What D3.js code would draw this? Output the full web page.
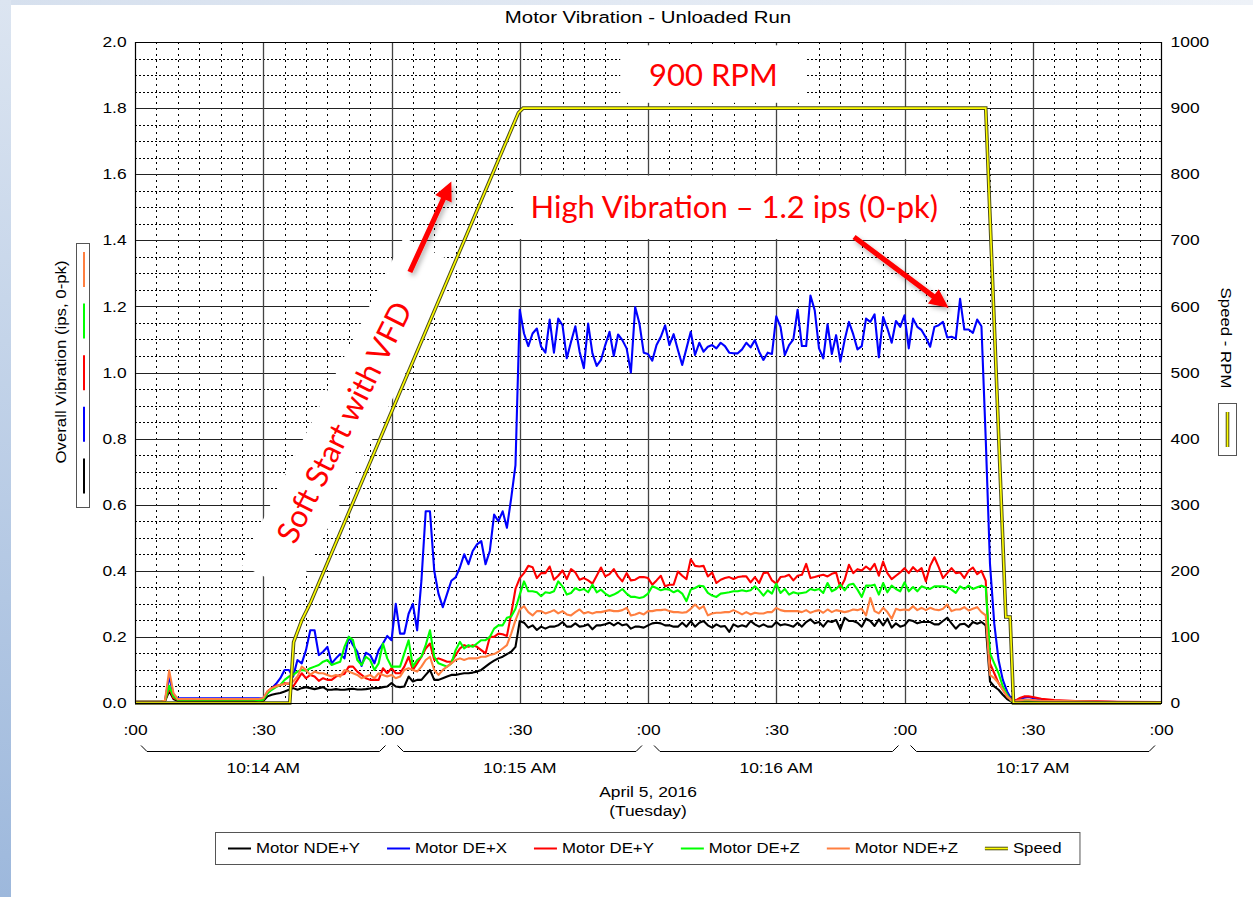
<!DOCTYPE html>
<html>
<head>
<meta charset="utf-8">
<script src="https://cdn.jsdelivr.net/npm/d3@7"></script>
<style>
  html, body { margin: 0; padding: 0; background: #fff; }
  svg { display: block; font-family: "Liberation Sans", Arial, sans-serif; }
</style>
</head>
<body>
<div id="chart"></div>
<script>
// Motor vibration chart - unloaded run

// Sample times, seconds after 10:14:00
const seconds = [
  0, 6, 7, 8, 9, 10, 12, 20, 28,
  29, 30, 31, 32, 33, 34, 35, 36, 37, 38,
  39, 40, 41, 42, 43, 44, 45, 46, 47, 48,
  49, 50, 51, 52, 53, 54, 55, 56, 57, 58,
  59, 60, 61, 62, 63, 64, 65, 66, 67, 68,
  69, 70, 71, 72, 73, 74, 75, 76, 77, 78,
  79, 80, 81, 82, 83, 84, 85, 86, 87, 88,
  89,
  90, 91, 92, 93, 94, 95, 96, 97, 98, 99,
  100, 101, 102, 103, 104, 105, 106, 107, 108, 109,
  110, 111, 112, 113, 114, 115, 116, 117, 118, 119,
  120, 121, 122, 123, 124, 125, 126, 127, 128, 129,
  130, 131, 132, 133, 134, 135, 136, 137, 138, 139,
  140, 141, 142, 143, 144, 145, 146, 147, 148, 149,
  150, 151, 152, 153, 154, 155, 156, 157, 158, 159,
  160, 161, 162, 163, 164, 165, 166, 167, 168, 169,
  170, 171, 172, 173, 174, 175, 176, 177, 178, 179,
  180, 181, 182, 183, 184, 185, 186, 187, 188, 189,
  190, 191, 192, 193, 194, 195, 196, 197, 198,
  199, 200, 201, 202, 203, 204, 205,
  206, 207, 208, 209, 210, 212, 215, 220, 225, 230, 240
]

// Overall vibration, ips 0-pk
const motorNdeY = [
  0.004, 0.004, 0.005, 0.036, 0.012, 0.006, 0.006, 0.006, 0.005,
  0.004, 0.006, 0.02, 0.025, 0.028, 0.03, 0.035, 0.04, 0.045, 0.04,
  0.045, 0.048, 0.045, 0.042, 0.045, 0.048, 0.04, 0.04, 0.042, 0.04,
  0.04, 0.042, 0.043, 0.041, 0.041, 0.042, 0.044, 0.045, 0.045, 0.048,
  0.05, 0.06, 0.05, 0.048, 0.05, 0.08, 0.065, 0.07, 0.07, 0.085,
  0.1, 0.07, 0.07, 0.075, 0.08, 0.085, 0.085, 0.088, 0.09, 0.09,
  0.092, 0.095, 0.1, 0.11, 0.12, 0.128, 0.135, 0.14, 0.148, 0.155,
  0.17,
  0.248, 0.243, 0.228, 0.235, 0.221, 0.231, 0.225, 0.231, 0.231, 0.235,
  0.245, 0.231, 0.231, 0.241, 0.231, 0.233, 0.238, 0.223, 0.235, 0.235,
  0.238, 0.243, 0.235, 0.243, 0.235, 0.238, 0.225, 0.231, 0.231, 0.228,
  0.235, 0.241, 0.243, 0.241, 0.235, 0.235, 0.231, 0.231, 0.243, 0.231,
  0.248, 0.231, 0.243, 0.248, 0.235, 0.228, 0.238, 0.231, 0.233, 0.215,
  0.238, 0.231, 0.235, 0.231, 0.248, 0.238, 0.231, 0.238, 0.231, 0.231,
  0.245, 0.235, 0.238, 0.235, 0.231, 0.243, 0.231, 0.245, 0.253, 0.241,
  0.245, 0.231, 0.248, 0.245, 0.251, 0.223, 0.258, 0.248, 0.248, 0.243,
  0.231, 0.255, 0.248, 0.233, 0.253, 0.235, 0.255, 0.228, 0.241, 0.231,
  0.235, 0.251, 0.248, 0.241, 0.245, 0.245, 0.245, 0.238, 0.238, 0.248,
  0.258, 0.241, 0.225, 0.238, 0.24, 0.23, 0.245, 0.24, 0.245,
  0.235, 0.065, 0.05, 0.04, 0.025, 0.012, 0.004,
  0.003, 0.003, 0.003, 0.003, 0.003, 0.003, 0.003, 0.003, 0.003, 0.003, 0.003
]

const motorDeX = [
  0.004, 0.004, 0.006, 0.08, 0.025, 0.014, 0.014, 0.014, 0.014,
  0.014, 0.015, 0.03, 0.045, 0.058, 0.075, 0.1, 0.1, 0.08, 0.13,
  0.12, 0.16, 0.22, 0.22, 0.145, 0.155, 0.17, 0.12, 0.135, 0.148,
  0.135, 0.2, 0.175, 0.155, 0.112, 0.152, 0.145, 0.12, 0.16, 0.18,
  0.203, 0.19, 0.3, 0.21, 0.21, 0.27, 0.3, 0.22, 0.37, 0.58,
  0.58, 0.4, 0.33, 0.29, 0.33, 0.37, 0.38, 0.41, 0.45, 0.42,
  0.46, 0.48, 0.49, 0.42, 0.46, 0.57, 0.55, 0.58, 0.53, 0.62,
  0.72,
  1.19, 1.118, 1.08, 1.118, 1.133, 1.078, 1.06, 1.16, 1.06, 1.163,
  1.143, 1.043, 1.093, 1.14, 1.063, 1.013, 1.148, 1.058, 1.02, 1.038,
  1.083, 1.123, 1.05, 1.115, 1.098, 1.073, 1.0, 1.198, 1.148, 1.06,
  1.056, 1.036, 1.083, 1.108, 1.143, 1.083, 1.116, 1.068, 1.023, 1.073,
  1.123, 1.053, 1.09, 1.063, 1.078, 1.083, 1.073, 1.09, 1.08, 1.06,
  1.058, 1.058, 1.07, 1.09, 1.076, 1.098, 1.063, 1.038, 1.06, 1.056,
  1.17, 1.138, 1.053, 1.083, 1.1, 1.19, 1.08, 1.08, 1.233, 1.188,
  1.073, 1.043, 1.146, 1.056, 1.113, 1.033, 1.098, 1.153, 1.116, 1.07,
  1.08, 1.163, 1.153, 1.176, 1.046, 1.168, 1.133, 1.09, 1.156, 1.138,
  1.173, 1.073, 1.163, 1.138, 1.128, 1.106, 1.078, 1.138, 1.143, 1.153,
  1.106, 1.108, 1.103, 1.223, 1.13, 1.13, 1.12, 1.16, 1.14,
  0.8, 0.42, 0.24, 0.13, 0.07, 0.035, 0.012,
  0.008, 0.012, 0.016, 0.018, 0.015, 0.01, 0.007, 0.005, 0.004, 0.003, 0.003
]

const motorDeY = [
  0.004, 0.004, 0.005, 0.045, 0.015, 0.01, 0.01, 0.01, 0.01,
  0.008, 0.01, 0.035, 0.045, 0.052, 0.054, 0.06, 0.058, 0.05, 0.07,
  0.09, 0.075, 0.085, 0.08, 0.067, 0.075, 0.07, 0.07, 0.08, 0.085,
  0.088, 0.11, 0.11, 0.095, 0.085, 0.075, 0.07, 0.07, 0.07, 0.105,
  0.09, 0.105, 0.09, 0.09, 0.11, 0.14, 0.1, 0.12, 0.14, 0.165,
  0.18, 0.13, 0.135, 0.13, 0.125, 0.125, 0.145, 0.165, 0.175, 0.17,
  0.175, 0.17, 0.16, 0.15, 0.2, 0.2, 0.21, 0.208, 0.203, 0.27,
  0.345,
  0.378, 0.393, 0.415, 0.411, 0.378, 0.393, 0.393, 0.413, 0.373, 0.385,
  0.401, 0.375, 0.405, 0.395, 0.373, 0.378, 0.371, 0.361, 0.385, 0.41,
  0.383, 0.39, 0.405, 0.383, 0.368, 0.393, 0.371, 0.373, 0.381, 0.381,
  0.378, 0.358, 0.371, 0.385, 0.353, 0.358, 0.358, 0.398, 0.385, 0.375,
  0.435, 0.415, 0.413, 0.415, 0.383, 0.395, 0.363, 0.373, 0.378, 0.381,
  0.375, 0.381, 0.383, 0.383, 0.365, 0.381, 0.363, 0.393, 0.395, 0.371,
  0.361, 0.381, 0.383, 0.388, 0.371, 0.385, 0.388, 0.421, 0.378, 0.381,
  0.385, 0.388, 0.383, 0.391, 0.395, 0.348, 0.373, 0.418, 0.393, 0.405,
  0.401, 0.413, 0.403, 0.421, 0.385, 0.428, 0.393, 0.375, 0.385, 0.395,
  0.408, 0.393, 0.411, 0.398, 0.408, 0.368, 0.415, 0.441, 0.411, 0.378,
  0.393, 0.408, 0.393, 0.395, 0.378, 0.4, 0.41, 0.39, 0.4,
  0.37, 0.12, 0.09, 0.06, 0.04, 0.02, 0.01,
  0.008, 0.015, 0.02, 0.02, 0.018, 0.013, 0.009, 0.006, 0.005, 0.004, 0.003
]

const motorDeZ = [
  0.004, 0.004, 0.006, 0.052, 0.02, 0.01, 0.01, 0.01, 0.01,
  0.008, 0.01, 0.03, 0.04, 0.048, 0.055, 0.07, 0.08, 0.085, 0.095,
  0.1, 0.098, 0.105, 0.11, 0.115, 0.125, 0.13, 0.115, 0.12, 0.125,
  0.17, 0.2, 0.19, 0.13, 0.115, 0.14, 0.13, 0.1, 0.12, 0.18,
  0.135, 0.11, 0.11, 0.11, 0.15, 0.19, 0.11, 0.13, 0.14, 0.175,
  0.22, 0.14, 0.12, 0.115, 0.11, 0.12, 0.16, 0.185, 0.165, 0.175,
  0.17, 0.18, 0.19, 0.19, 0.2, 0.225, 0.235, 0.235, 0.258, 0.262,
  0.285,
  0.328, 0.368, 0.338, 0.338, 0.335, 0.323, 0.335, 0.333, 0.338, 0.368,
  0.353, 0.328, 0.333, 0.348, 0.341, 0.345, 0.335, 0.358, 0.335, 0.343,
  0.331, 0.323, 0.328, 0.335, 0.345, 0.331, 0.321, 0.321, 0.318, 0.321,
  0.331, 0.353, 0.348, 0.341, 0.345, 0.343, 0.335, 0.341, 0.331, 0.308,
  0.343, 0.348, 0.355, 0.353, 0.333, 0.325, 0.321, 0.331, 0.333, 0.335,
  0.338, 0.338, 0.341, 0.338, 0.341, 0.353, 0.341, 0.325, 0.341, 0.331,
  0.361, 0.333, 0.345, 0.328, 0.335, 0.331, 0.333, 0.335, 0.345, 0.341,
  0.345, 0.333, 0.363, 0.338, 0.345, 0.358, 0.341, 0.358, 0.361, 0.343,
  0.321, 0.355, 0.355, 0.358, 0.328, 0.363, 0.335, 0.355, 0.345, 0.338,
  0.365, 0.338, 0.351, 0.338, 0.353, 0.348, 0.345, 0.353, 0.353, 0.353,
  0.35, 0.343, 0.333, 0.353, 0.345, 0.355, 0.345, 0.35, 0.355,
  0.35, 0.15, 0.12, 0.09, 0.05, 0.025, 0.006,
  0.005, 0.007, 0.008, 0.008, 0.007, 0.006, 0.005, 0.004, 0.003, 0.003, 0.003
]

const motorNdeZ = [
  0.004, 0.004, 0.007, 0.098, 0.03, 0.012, 0.012, 0.012, 0.012,
  0.012, 0.015, 0.035, 0.045, 0.05, 0.055, 0.057, 0.06, 0.065, 0.08,
  0.11, 0.1, 0.085, 0.095, 0.09, 0.09, 0.085, 0.08, 0.085, 0.08,
  0.1, 0.095, 0.09, 0.085, 0.075, 0.08, 0.085, 0.075, 0.09, 0.085,
  0.08, 0.085, 0.075, 0.08, 0.1, 0.105, 0.1, 0.095, 0.11, 0.13,
  0.14, 0.1, 0.085, 0.1, 0.11, 0.12, 0.13, 0.135, 0.13, 0.135,
  0.135, 0.135, 0.14, 0.14, 0.145, 0.148, 0.155, 0.165, 0.175, 0.21,
  0.25,
  0.283, 0.293, 0.275, 0.265, 0.278, 0.278, 0.271, 0.275, 0.281, 0.271,
  0.278, 0.268, 0.265, 0.275, 0.283, 0.271, 0.275, 0.271, 0.275, 0.275,
  0.278, 0.281, 0.278, 0.278, 0.281, 0.288, 0.265, 0.268, 0.273, 0.268,
  0.278, 0.278, 0.281, 0.281, 0.283, 0.278, 0.275, 0.275, 0.273, 0.275,
  0.285, 0.298, 0.285, 0.293, 0.265, 0.271, 0.273, 0.273, 0.275, 0.275,
  0.281, 0.275, 0.268, 0.275, 0.268, 0.273, 0.271, 0.271, 0.275, 0.275,
  0.288, 0.281, 0.278, 0.278, 0.278, 0.278, 0.275, 0.281, 0.273, 0.278,
  0.281, 0.273, 0.283, 0.275, 0.281, 0.278, 0.275, 0.278, 0.283, 0.281,
  0.285, 0.265, 0.318, 0.278, 0.271, 0.288, 0.275, 0.255, 0.285, 0.281,
  0.283, 0.281, 0.293, 0.281, 0.288, 0.281, 0.288, 0.283, 0.281, 0.285,
  0.298, 0.278, 0.283, 0.283, 0.29, 0.28, 0.285, 0.29, 0.275,
  0.265, 0.085, 0.075, 0.06, 0.04, 0.02, 0.008,
  0.006, 0.008, 0.01, 0.01, 0.009, 0.007, 0.006, 0.005, 0.004, 0.003, 0.003
]

// Speed trace (RPM), its own time stamps
const speedSeconds = [0, 36.2, 37.1, 39.0, 41.0, 89.7, 90.8, 199.0, 203.7, 204.7, 205.5, 240]
const speedRpm = [0, 0, 92, 125, 151, 893, 900, 900, 130, 130, 0, 0]

const seriesNames = ['Motor NDE+Y', 'Motor DE+X', 'Motor DE+Y', 'Motor DE+Z', 'Motor NDE+Z']
const seriesColors = ['#000000', '#0000ff', '#ff0000', '#00ff00', '#ff7f40']
const vibTicks = [0, 0.2, 0.4, 0.6, 0.8, 1.0, 1.2, 1.4, 1.6, 1.8, 2.0]
const rpmTicks = [0, 100, 200, 300, 400, 500, 600, 700, 800, 900, 1000]

var width = 1253
var height = 897
var plot = { left: 135, right: 1161, top: 42, bottom: 703 }
var stretch = 1.2   // the chart's sans text runs wide

var svg = d3.select('#chart')
  .append('svg')
  .attr('width', width)
  .attr('height', height)

var defs = svg.append('defs')

// slide edge tint
var gl = defs.append('linearGradient').attr('id', 'edge-left')
  .attr('x1', 0).attr('y1', 0).attr('x2', 0).attr('y2', 1)
gl.append('stop').attr('offset', '0%').attr('stop-color', '#dce5f1')
gl.append('stop').attr('offset', '100%').attr('stop-color', '#9db8dc')
var gt = defs.append('linearGradient').attr('id', 'edge-top')
gt.append('stop').attr('offset', '0%').attr('stop-color', '#d6e0ee')
gt.append('stop').attr('offset', '100%').attr('stop-color', '#eef2f8')

var shadow = defs.append('filter').attr('id', 'shadow')
  .attr('x', '-50%').attr('y', '-50%').attr('width', '200%').attr('height', '200%')
shadow.append('feDropShadow').attr('dx', 2).attr('dy', 3).attr('stdDeviation', 2.5)
  .attr('flood-color', '#000').attr('flood-opacity', 0.3)

defs.append('clipPath').attr('id', 'plot-clip')
  .append('rect')
  .attr('x', plot.left).attr('y', plot.top - 2)
  .attr('width', plot.right - plot.left).attr('height', plot.bottom - plot.top + 4)

svg.append('rect').attr('width', width).attr('height', height).attr('fill', '#fff')
svg.append('rect').attr('width', width).attr('height', 5).attr('fill', 'url(#edge-top)')
svg.append('rect').attr('width', 11).attr('height', height).attr('fill', 'url(#edge-left)')

// Scales
var t0 = new Date(2016, 3, 5, 10, 14, 0)
var toDate = (s) => new Date(t0.getTime() + s * 1000)

var x = d3.scaleTime()
  .domain([t0, toDate(240)])
  .range([plot.left, plot.right])

var y = d3.scaleLinear()
  .domain([0, 2])
  .range([plot.bottom, plot.top])

var y2 = d3.scaleLinear()
  .domain([0, 1000])
  .range([plot.bottom, plot.top])

// text helper, stretched horizontally like the original
function addText(g, px, py, str, o) {
  o = o || {}
  return g.append('text')
    .attr('transform', `translate(${px},${py})` + (o.rotate ? ` rotate(${o.rotate})` : '') + ` scale(${stretch},1)`)
    .attr('text-anchor', o.anchor || 'middle')
    .attr('font-size', o.size || 14)
    .attr('fill', '#000')
    .text(str)
}

// Grid
var grid = svg.append('g')
var minorY = d3.range(0, 2.001, 0.05).filter((v) => Math.round(v * 100) % 20 !== 0)
var majorSec = x.ticks(d3.timeSecond.every(30))
var minorSec = x.ticks(d3.timeSecond.every(5)).filter((d) => d.getSeconds() % 30 !== 0)

grid.selectAll('.minor-y')
  .data(minorY)
  .enter()
  .append('line')
  .attr('x1', plot.left).attr('x2', plot.right)
  .attr('y1', (d) => Math.round(y(d)) + 0.5).attr('y2', (d) => Math.round(y(d)) + 0.5)
  .attr('stroke', '#000').attr('stroke-width', 1).attr('stroke-dasharray', '2,2')

grid.selectAll('.minor-x')
  .data(minorSec)
  .enter()
  .append('line')
  .attr('x1', (d) => Math.round(x(d)) + 0.5).attr('x2', (d) => Math.round(x(d)) + 0.5)
  .attr('y1', plot.top).attr('y2', plot.bottom)
  .attr('stroke', '#000').attr('stroke-width', 1).attr('stroke-dasharray', '2,4')

grid.selectAll('.major-y')
  .data(vibTicks)
  .enter()
  .append('line')
  .attr('x1', plot.left).attr('x2', plot.right)
  .attr('y1', (d) => Math.round(y(d)) + 0.5).attr('y2', (d) => Math.round(y(d)) + 0.5)
  .attr('stroke', '#222').attr('stroke-width', 1.2)

grid.selectAll('.major-x')
  .data(majorSec)
  .enter()
  .append('line')
  .attr('x1', (d) => Math.round(x(d)) + 0.5).attr('x2', (d) => Math.round(x(d)) + 0.5)
  .attr('y1', plot.top).attr('y2', plot.bottom)
  .attr('stroke', '#444').attr('stroke-width', 1.3)

// Annotation boxes (white, hide the grid)
var notes = svg.append('g').attr('font-family', 'Lato, "Open Sans", sans-serif').attr('fill', '#ff0000')

notes.append('rect')
  .attr('x', x(toDate(113.5))).attr('y', y(1.99))
  .attr('width', x(toDate(157.2)) - x(toDate(113.5))).attr('height', y(1.816) - y(1.99))
  .attr('fill', '#fff')
notes.append('text')
  .attr('x', x(toDate(135.3))).attr('y', y(1.9)).attr('dy', '0.36em')
  .attr('text-anchor', 'middle').attr('font-size', 31)
  .text('900 RPM')

notes.append('rect')
  .attr('x', x(toDate(88.6))).attr('y', y(1.596))
  .attr('width', x(toDate(193.0)) - x(toDate(88.6))).attr('height', y(1.404) - y(1.596))
  .attr('fill', '#fff')
notes.append('text')
  .attr('x', x(toDate(140.2))).attr('y', y(1.5)).attr('dy', '0.36em')
  .attr('text-anchor', 'middle').attr('font-size', 31)
  .text('High Vibration \u2013 1.2 ips (0-pk)')

var soft = notes.append('g')
  .attr('transform', `translate(${x(toDate(48.9))},${y(0.85)}) rotate(-63.5)`)
soft.append('rect')
  .attr('x', -174).attr('y', -29).attr('width', 366).attr('height', 62)
  .attr('fill', '#fff')
soft.append('text')
  .attr('text-anchor', 'middle').attr('dy', '0.36em').attr('font-size', 31)
  .text('Soft Start with VFD')

// Data lines
var lines = svg.append('g').attr('clip-path', 'url(#plot-clip)')

var vibLine = d3.line()
  .x((d) => x(toDate(d[0])))
  .y((d) => y(d[1]))

var vibSeries = [motorNdeY, motorDeX, motorDeY, motorDeZ, motorNdeZ]
vibSeries.forEach((vals, i) => {
  lines.append('path')
    .datum(seconds.map((s, k) => [s, vals[k]]))
    .attr('d', vibLine)
    .attr('fill', 'none')
    .attr('stroke', seriesColors[i])
    .attr('stroke-width', 2.1)
    .attr('stroke-linejoin', 'round')
})

var speedLine = d3.line()
  .x((d) => x(toDate(d[0])))
  .y((d) => y2(d[1]))
var speedData = speedSeconds.map((s, k) => [s, speedRpm[k]])

lines.append('path')
  .datum(speedData)
  .attr('d', speedLine)
  .attr('fill', 'none')
  .attr('stroke', '#4d4d1a')
  .attr('stroke-width', 3.6)
lines.append('path')
  .datum(speedData)
  .attr('d', speedLine)
  .attr('fill', 'none')
  .attr('stroke', '#ffff00')
  .attr('stroke-width', 1.6)

// plot frame
svg.append('rect')
  .attr('x', plot.left + 0.5).attr('y', plot.top + 0.5)
  .attr('width', plot.right - plot.left).attr('height', plot.bottom - plot.top)
  .attr('fill', 'none').attr('stroke', '#000').attr('stroke-width', 1)

// Arrows
function arrow(tail, tip) {
  var p0 = [x(toDate(tail[0])), y(tail[1])]
  var p1 = [x(toDate(tip[0])), y(tip[1])]
  var dx = p1[0] - p0[0], dy = p1[1] - p0[1]
  var len = Math.hypot(dx, dy)
  var u = [dx / len, dy / len], n = [-u[1], u[0]]
  var sw = 2.6, hw = 9, hl = 19
  var neck = [p1[0] - u[0] * hl, p1[1] - u[1] * hl]
  var pts = [
    [p0[0] + n[0] * sw, p0[1] + n[1] * sw],
    [neck[0] + n[0] * sw, neck[1] + n[1] * sw],
    [neck[0] + n[0] * hw, neck[1] + n[1] * hw],
    p1,
    [neck[0] - n[0] * hw, neck[1] - n[1] * hw],
    [neck[0] - n[0] * sw, neck[1] - n[1] * sw],
    [p0[0] - n[0] * sw, p0[1] - n[1] * sw]
  ]
  svg.append('path')
    .attr('d', 'M' + pts.map((p) => p.join(',')).join('L') + 'Z')
    .attr('fill', '#ff0000')
    .attr('filter', 'url(#shadow)')
}
arrow([64.3, 1.304], [74.0, 1.578])
arrow([168.2, 1.41], [190.3, 1.196])

// Axes
var axisLeft = svg.append('g')
  .attr('transform', `translate(${plot.left},0)`)
  .call(d3.axisLeft(y).tickValues(vibTicks).tickFormat(d3.format('.1f')).tickSize(0).tickPadding(7))
var axisRight = svg.append('g')
  .attr('transform', `translate(${plot.right},0)`)
  .call(d3.axisRight(y2).tickValues(rpmTicks).tickFormat(d3.format('d')).tickSize(0).tickPadding(8))
var axisBottom = svg.append('g')
  .attr('transform', `translate(0,${plot.bottom})`)
  .call(d3.axisBottom(x).tickValues(majorSec).tickFormat(d3.timeFormat(':%S')).tickSize(0).tickPadding(22))

;[axisLeft, axisRight, axisBottom].forEach((a) => {
  a.select('.domain').remove()
  a.selectAll('text')
    .attr('font-family', '"Liberation Sans", Arial, sans-serif')
    .attr('font-size', 14.5)
    .attr('fill', '#000')
    .attr('transform', `scale(${stretch},1)`)
})

// Minute braces and labels
var minutes = x.ticks(d3.timeMinute.every(1))
var braces = svg.append('g')
for (var i = 0; i < minutes.length - 1; i++) {
  var x0 = x(minutes[i]), x1 = x(minutes[i + 1])
  braces.append('path')
    .attr('d', `M${x0 + 6},745.5 L${x0 + 12},751.5 L${x1 - 12},751.5 L${x1 - 6},745.5`)
    .attr('fill', 'none').attr('stroke', '#000').attr('stroke-width', 1)
  addText(braces, (x0 + x1) / 2, 773, d3.timeFormat('%-I:%M %p')(minutes[i]), { size: 14.5 })
}

var midX = (plot.left + plot.right) / 2
addText(svg, midX, 797, d3.timeFormat('%B %-d, %Y')(t0), { size: 14.5 })
addText(svg, midX, 816, d3.timeFormat('(%A)')(t0), { size: 14.5 })

// Title and axis titles
addText(svg, 648, 23, 'Motor Vibration - Unloaded Run', { size: 17 })
addText(svg, 66, 362, 'Overall Vibration (ips, 0-pk)', { rotate: -90 })
addText(svg, 1221, 338, 'Speed - RPM', { rotate: 90 })

// Left key box
var keyLeft = svg.append('g')
keyLeft.append('rect')
  .attr('x', 76.5).attr('y', 243.5).attr('width', 13).attr('height', 264)
  .attr('fill', '#fff').attr('stroke', '#555')
seriesColors.slice().reverse().forEach((c, i) => {
  keyLeft.append('line')
    .attr('x1', 84).attr('x2', 84)
    .attr('y1', 252 + i * 51.6).attr('y2', 287 + i * 51.6)
    .attr('stroke', c).attr('stroke-width', 2)
})

// Right key box
var keyRight = svg.append('g')
keyRight.append('rect')
  .attr('x', 1218.5).attr('y', 403.5).attr('width', 18).attr('height', 52)
  .attr('fill', '#fff').attr('stroke', '#555')
keyRight.append('line')
  .attr('x1', 1227.5).attr('x2', 1227.5).attr('y1', 412).attr('y2', 447)
  .attr('stroke', '#4d4d1a').attr('stroke-width', 3.6)
keyRight.append('line')
  .attr('x1', 1227.5).attr('x2', 1227.5).attr('y1', 412).attr('y2', 447)
  .attr('stroke', '#ffff00').attr('stroke-width', 1.6)

// Bottom legend
var legend = svg.append('g').attr('id', 'legend')
var legendBox = legend.append('rect')
  .attr('x', 215.5).attr('y', 832.5).attr('height', 32)
  .attr('fill', '#fff').attr('stroke', '#555')
var lx = 228
var legendItems = seriesNames.map((n, i) => ({ name: n, color: seriesColors[i] }))
legendItems.push({ name: 'Speed', color: 'speed' })
legendItems.forEach((item) => {
  if (item.color === 'speed') {
    legend.append('line').attr('x1', lx).attr('x2', lx + 23).attr('y1', 848.5).attr('y2', 848.5)
      .attr('stroke', '#4d4d1a').attr('stroke-width', 3.6)
    legend.append('line').attr('x1', lx).attr('x2', lx + 23).attr('y1', 848.5).attr('y2', 848.5)
      .attr('stroke', '#ffff00').attr('stroke-width', 1.6)
  } else {
    legend.append('line').attr('x1', lx).attr('x2', lx + 23).attr('y1', 848.5).attr('y2', 848.5)
      .attr('stroke', item.color).attr('stroke-width', 2)
  }
  var t = addText(legend, lx + 28, 853, item.name, { anchor: 'start' })
  lx += 28 + t.node().getComputedTextLength() * stretch + 27
})
legendBox.attr('width', lx - 27 + 18 - 215)
</script>
</body>
</html>
